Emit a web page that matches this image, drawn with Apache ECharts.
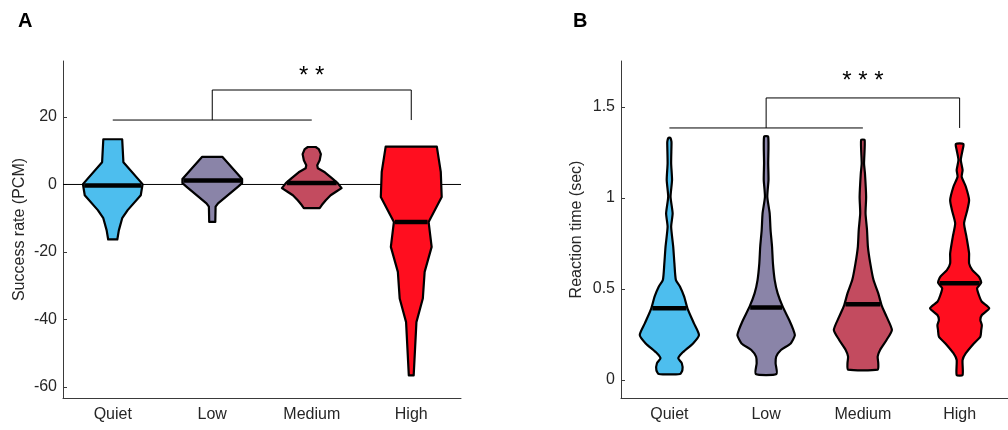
<!DOCTYPE html>
<html>
<head>
<meta charset="utf-8">
<script src="https://cdn.jsdelivr.net/npm/echarts@6/dist/echarts.min.js"></script>
<style>
  html, body { margin: 0; padding: 0; background: #fff; }
  #chart { width: 1008px; height: 430px; }
</style>
</head>
<body>
<div id="chart"></div>
<script>
// Conditions shared by both panels
const categories = ['Quiet', 'Low', 'Medium', 'High'];
const violinColors = ['#4DBEEE', '#8A84A8', '#C34B5F', '#FF0E1F'];

// Panel A: success rate (PCM). Each violin outline is [value, relative density], top to bottom.
const successQuiet = [[13.4, 0.31], [6.6, 0.35], [0.1, 0.98], [-3.2, 0.92], [-7.6, 0.49], [-10.0, 0.31], [-13.6, 0.20], [-16.3, 0.15]];
const successLow = [[8.2, 0.33], [1.6, 0.98], [0.4, 0.98], [-0.7, 0.84], [-5.6, 0.19], [-6.6, 0.11], [-11.1, 0.10]];
const successMedium = [[11.1, 0.13], [10.5, 0.23], [9.0, 0.30], [7.2, 0.26], [5.7, 0.18], [4.8, 0.20], [3.6, 0.43], [1.9, 0.66], [0.4, 0.85], [-1.1, 0.98], [-2.0, 0.82], [-3.2, 0.62], [-4.7, 0.46], [-6.1, 0.33], [-7.0, 0.26]];
const successHigh = [[11.2, 0.84], [3.7, 0.97], [-3.7, 1.0], [-11.1, 0.57], [-18.5, 0.67], [-25.9, 0.44], [-33.8, 0.38], [-40.8, 0.17], [-56.6, 0.08]];
const successMedians = [-0.3, 1.2, 0.4, -11.1];
const successTicks = [-60, -40, -20, 0, 20];
const successRange = [-63.3, 36.6];
const successBracket = [19.1, 28.0];   // lower bar, upper bar
const successStars = ['* *', 32.0];

// Panel B: reaction time (sec)
const rtQuiet = [[1.331, 0.03], [1.31, 0.07], [1.282, 0.07], [1.19, 0.06], [1.099, 0.09], [1.007, 0.04], [0.916, 0.11], [0.842, 0.06], [0.732, 0.13], [0.641, 0.17], [0.549, 0.22], [0.513, 0.36], [0.458, 0.50], [0.394, 0.61], [0.311, 0.83], [0.247, 1.0], [0.201, 0.80], [0.147, 0.42], [0.119, 0.30], [0.092, 0.42], [0.055, 0.44], [0.033, 0.36]];
const rtLow = [[1.337, 0.07], [1.19, 0.07], [1.099, 0.08], [1.007, 0.04], [0.916, 0.12], [0.824, 0.15], [0.732, 0.20], [0.641, 0.23], [0.549, 0.29], [0.476, 0.39], [0.403, 0.56], [0.33, 0.78], [0.275, 0.92], [0.245, 0.97], [0.201, 0.83], [0.165, 0.50], [0.128, 0.34], [0.092, 0.32], [0.033, 0.35]];
const rtMedium = [[1.319, 0.06], [1.19, 0.04], [1.136, 0.07], [1.007, 0.11], [0.916, 0.09], [0.824, 0.14], [0.732, 0.17], [0.641, 0.25], [0.549, 0.36], [0.476, 0.52], [0.412, 0.63], [0.348, 0.80], [0.275, 0.98], [0.22, 0.80], [0.165, 0.58], [0.128, 0.50], [0.092, 0.52], [0.057, 0.50]];
const rtHigh = [[1.297, 0.13], [1.264, 0.10], [1.209, 0.04], [1.154, 0.10], [1.117, 0.07], [1.062, 0.21], [0.989, 0.32], [0.934, 0.26], [0.861, 0.15], [0.788, 0.23], [0.696, 0.32], [0.641, 0.32], [0.604, 0.43], [0.568, 0.65], [0.535, 0.73], [0.504, 0.59], [0.467, 0.65], [0.43, 0.75], [0.394, 1.0], [0.357, 0.75], [0.33, 0.70], [0.302, 0.75], [0.275, 0.73], [0.238, 0.70], [0.201, 0.48], [0.147, 0.21], [0.11, 0.10], [0.027, 0.10]];
const rtMedians = [0.394, 0.399, 0.416, 0.531];
const rtTicks = [0, 0.5, 1, 1.5];
const rtRange = [-0.099, 1.753];
const rtBracket = [1.385, 1.55];
const rtStars = ['* * *', 1.64];

const successProfiles = [successQuiet, successLow, successMedium, successHigh];
const rtProfiles = [rtQuiet, rtLow, rtMedium, rtHigh];

const axisColor = '#3a3a3a';
const textColor = '#262626';
const fontFamily = 'Liberation Sans, Arial, Helvetica, sans-serif';
const HALF_WIDTH = 0.306;   // widest half-width as a fraction of the category band

function densityAt(profile, v) {
  for (let k = 0; k < profile.length - 1; k++) {
    const a = profile[k], b = profile[k + 1];
    if (v <= a[0] && v >= b[0]) {
      const t = (a[0] - v) / (a[0] - b[0]);
      return a[1] + t * (b[1] - a[1]);
    }
  }
  return 0;
}

function violinSeries(idx, profiles, smooth) {
  return {
    type: 'custom', xAxisIndex: idx, yAxisIndex: idx, z: 3, silent: true,
    data: categories.map((c, i) => [i]),
    renderItem(params, api) {
      const i = api.value(0);
      const prof = profiles[i];
      const half = api.size([1, 0])[0] * HALF_WIDTH;
      const right = prof.map(([v, d]) => { const p = api.coord([i, v]); return [p[0] + d * half, p[1]]; });
      const left = prof.slice().reverse().map(([v, d]) => { const p = api.coord([i, v]); return [p[0] - d * half, p[1]]; });
      return {
        type: 'polygon',
        shape: { points: right.concat(left), smooth: smooth },
        style: { fill: violinColors[i], stroke: '#000', lineWidth: 2.2, lineJoin: 'round' }
      };
    }
  };
}

function medianSeries(idx, profiles, medians) {
  return {
    type: 'custom', xAxisIndex: idx, yAxisIndex: idx, z: 4, silent: true,
    data: medians.map((m, i) => [i, m]),
    renderItem(params, api) {
      const i = api.value(0);
      const m = api.value(1);
      const half = api.size([1, 0])[0] * HALF_WIDTH * densityAt(profiles[i], m) - 1;
      const p = api.coord([i, m]);
      return {
        type: 'line',
        shape: { x1: p[0] - half, y1: p[1], x2: p[0] + half, y2: p[1] },
        style: { stroke: '#000', lineWidth: 4.5 }
      };
    }
  };
}

function bracketSeries(idx, bracket, stars) {
  return {
    type: 'custom', xAxisIndex: idx, yAxisIndex: idx, z: 2, silent: true,
    data: [[0]],
    renderItem(params, api) {
      const lo = bracket[0], hi = bracket[1];
      const a = api.coord([0, lo]), c = api.coord([2, lo]);
      const b1 = api.coord([1, lo]), b2 = api.coord([1, hi]);
      const d1 = api.coord([3, hi]), d2 = api.coord([3, lo]);
      const s = api.coord([2, stars[1]]);
      const lineStyle = { stroke: '#000', lineWidth: 1, fill: null };
      return {
        type: 'group',
        children: [
          { type: 'polyline', shape: { points: [a, c] }, style: lineStyle },
          { type: 'polyline', shape: { points: [b1, b2, d1, d2] }, style: lineStyle },
          { type: 'text', x: s[0], y: s[1], style: { text: stars[0], fill: '#000', font: '24px ' + fontFamily, align: 'center', verticalAlign: 'middle' } }
        ]
      };
    }
  };
}

function zeroLineSeries(idx) {
  return {
    type: 'custom', xAxisIndex: idx, yAxisIndex: idx, z: 1, silent: true,
    data: [[0, 0]],
    renderItem(params, api) {
      const cs = params.coordSys;
      const y = api.coord([0, 0])[1];
      return {
        type: 'line',
        shape: { x1: cs.x, y1: y, x2: cs.x + cs.width, y2: y },
        style: { stroke: '#000', lineWidth: 1 }
      };
    }
  };
}

function xAxisDef(idx) {
  return {
    type: 'category', gridIndex: idx, data: categories, boundaryGap: true,
    axisLine: { onZero: false, lineStyle: { color: axisColor, width: 1 } },
    axisTick: { inside: true, alignWithLabel: true, length: 4, lineStyle: { color: axisColor } },
    axisLabel: { color: textColor, fontSize: 16, fontFamily: fontFamily, margin: 9 },
    splitLine: { show: false }
  };
}

function yAxisDef(idx, range, ticks, name, gap) {
  return {
    type: 'value', gridIndex: idx, min: range[0], max: range[1],
    name: name, nameLocation: 'middle', nameGap: gap,
    nameTextStyle: { color: textColor, fontSize: 16, fontFamily: fontFamily },
    axisLine: { show: true, onZero: false, lineStyle: { color: axisColor, width: 1 } },
    axisTick: { show: true, inside: true, length: 4, customValues: ticks, lineStyle: { color: axisColor } },
    axisLabel: { color: textColor, fontSize: 16, fontFamily: fontFamily, margin: 6, customValues: ticks },
    splitLine: { show: false }
  };
}

const chart = echarts.init(document.getElementById('chart'), null, { renderer: 'canvas' });
chart.setOption({
  animation: false,
  backgroundColor: '#fff',
  grid: [
    { left: 63, top: 61, width: 398, height: 337 },
    { left: 621, top: 61, width: 397, height: 337 }
  ],
  xAxis: [xAxisDef(0), xAxisDef(1)],
  yAxis: [
    yAxisDef(0, successRange, successTicks, 'Success rate (PCM)', 35),
    yAxisDef(1, rtRange, rtTicks, 'Reaction time (sec)', 36)
  ],
  graphic: [
    { type: 'text', left: 18, top: 11, style: { text: 'A', font: 'bold 20px ' + fontFamily, fill: '#000' } },
    { type: 'text', left: 573, top: 11, style: { text: 'B', font: 'bold 20px ' + fontFamily, fill: '#000' } }
  ],
  series: [
    zeroLineSeries(0),
    violinSeries(0, successProfiles, 0),
    medianSeries(0, successProfiles, successMedians),
    bracketSeries(0, successBracket, successStars),
    violinSeries(1, rtProfiles, 0.2),
    medianSeries(1, rtProfiles, rtMedians),
    bracketSeries(1, rtBracket, rtStars)
  ]
});
</script>
</body>
</html>
